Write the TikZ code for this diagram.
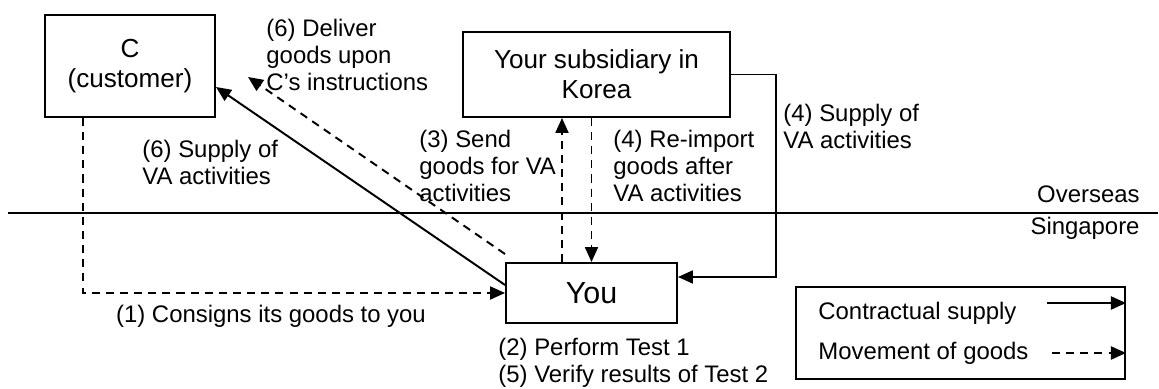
\documentclass[tikz,border=0pt]{standalone}
\usepackage{fontspec}
\setmainfont{Liberation Sans}
\usetikzlibrary{arrows.meta}
\newcommand{\kpx}{0.46pt}
\tikzset{
  box/.style={draw,line width=0.9pt,inner sep=0pt,align=center,font=\fontsize{12}{13.8}\selectfont},
  lbl/.style={inner sep=0pt,align=left,anchor=west,font=\fontsize{11}{12.4}\selectfont},
  supply/.style={line width=0.9pt,-{Triangle[length=6.9pt,width=6pt]}},
  goods/.style={supply,dash pattern=on 3.7pt off 2.8pt}
}
\begin{document}
\begin{tikzpicture}[x=\kpx,y=-\kpx]
\useasboundingbox (0,0) rectangle (1159,389);
% boxes
\node[box,minimum width=170*\kpx,minimum height=102*\kpx](cust) at (130,66) {C\\(customer)};
\node[box,minimum width=267*\kpx,minimum height=85*\kpx](sub) at (596.5,74.5) {Your subsidiary in\\Korea};
\node[box,minimum width=171*\kpx,minimum height=60*\kpx,font=\fontsize{14}{16}\selectfont](you) at (591.5,293) {You};
% border
\coordinate (bl) at (8,213);
\coordinate (br) at (1158,213);
\draw[line width=0.9pt](bl)--(br);
\node[inner sep=0pt,anchor=base east,font=\fontsize{11}{12}\selectfont](ovs) at (1140,203) {Overseas};
\node[inner sep=0pt,anchor=base east,font=\fontsize{11}{12}\selectfont](sgp) at (1140,235) {Singapore};
% flows
\draw[goods]([xshift=39*\kpx]cust.south west)|-(you.west);
\node[inner sep=0pt,font=\fontsize{11}{12}\selectfont](l1) at (271,316) {(1) Consigns its goods to you};
\node[lbl](l2) at (498,363) {(2) Perform Test 1\\(5) Verify results of Test 2};
\draw[goods]([xshift=-29.5*\kpx]you.north)--([xshift=-29.5*\kpx]you.north|-sub.south);
\node[lbl](l3) at (419,166) {(3) Send\\goods for VA\\activities};
\draw[goods](you.north|-sub.south)--(you.north);
\node[lbl](l4a) at (613,166) {(4) Re-import\\goods after\\VA activities};
\coordinate (bend) at (776,150);
\draw[supply](sub.east)-|(bend)|-([yshift=16*\kpx]you.east);
\node[lbl](l4b) at (783,126) {(4) Supply of\\VA activities};
\draw[supply]([yshift=8*\kpx]you.west)--([yshift=-21*\kpx]cust.east);
\node[lbl](l6a) at (142,162) {(6) Supply of\\VA activities};
\coordinate (deliv) at (248,77);
\draw[goods]([yshift=8*\kpx]you.north west)--(deliv);
\node[lbl](l6b) at (266,55) {(6) Deliver\\goods upon\\C’s instructions};
% legend
\node[draw,line width=0.9pt,minimum width=329*\kpx,minimum height=92*\kpx](legend) at (960.5,333) {};
\node[lbl](lg1) at (818,313) {Contractual supply};
\node[lbl](lg2) at (818,353) {Movement of goods};
\coordinate (lgs) at (1047,303);
\coordinate (lgg) at (1052,353);
\draw[supply](lgs)--(lgs-|legend.east);
\draw[goods](lgg)--(lgg-|legend.east);
\end{tikzpicture}
\end{document}
